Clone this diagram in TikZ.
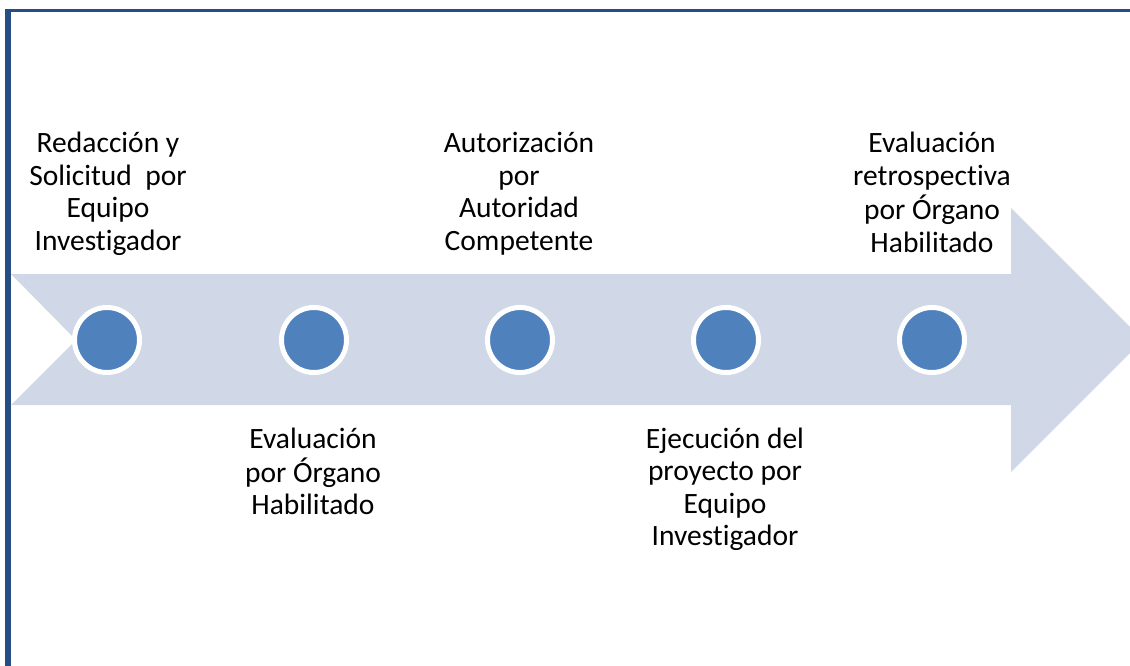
\documentclass[tikz,border=0pt]{standalone}
\usepackage{fontspec}
\setmainfont{Carlito}[Ligatures=NoCommon]
\definecolor{framecol}{RGB}{38,78,130}
\definecolor{arrowcol}{RGB}{208,216,232}
\definecolor{dotcol}{RGB}{79,129,189}
\tikzset{
  dot/.style={circle, fill=dotcol, draw=white, line width=5pt, minimum size=65pt, inner sep=0pt},
  lbl/.style={anchor=base, inner sep=0pt, font=\fontsize{29.5}{32.5}\selectfont, text=black},
}
\newcommand{\lines}[1]{\setlength{\tabcolsep}{0pt}\begin{tabular}[t]{c}#1\end{tabular}}
\begin{document}
\begin{tikzpicture}[x=1pt,y=-1pt]
\useasboundingbox (0,0) rectangle (1130,666);
\clip (0,0) rectangle (1130,666);
% big arrow
\fill[arrowcol] (11,274) -- (1011,274) -- (1011,208) -- (1143,340) -- (1011,472) -- (1011,405) -- (11,405) -- (76,340) -- cycle;
% frame
\draw[framecol, line width=3pt] (5,10.5) -- (1135,10.5);
\draw[framecol, line width=6pt] (8,9) -- (8,670);
% dots
\foreach \i/\x in {1/107,2/314,3/520,4/726,5/932}{
  \node[dot] (d\i) at (\x,340) {};
}
% labels
\node[lbl] (t1) at (108,153) {\lines{Redacción y\\Solicitud\ \ por\\Equipo\\Investigador}};
\node[lbl] (t3) at (519,153) {\lines{Autorización\\por\\Autoridad\\Competente}};
\node[lbl] (t5) at (932,153) {\lines{Evaluación\\retrospectiva\\por Órgano\\Habilitado}};
\node[lbl] (t2) at (313,448) {\lines{Evaluación\\por Órgano\\Habilitado}};
\node[lbl] (t4) at (725,448) {\lines{Ejecución del\\proyecto por\\Equipo\\Investigador}};
\end{tikzpicture}
\end{document}
